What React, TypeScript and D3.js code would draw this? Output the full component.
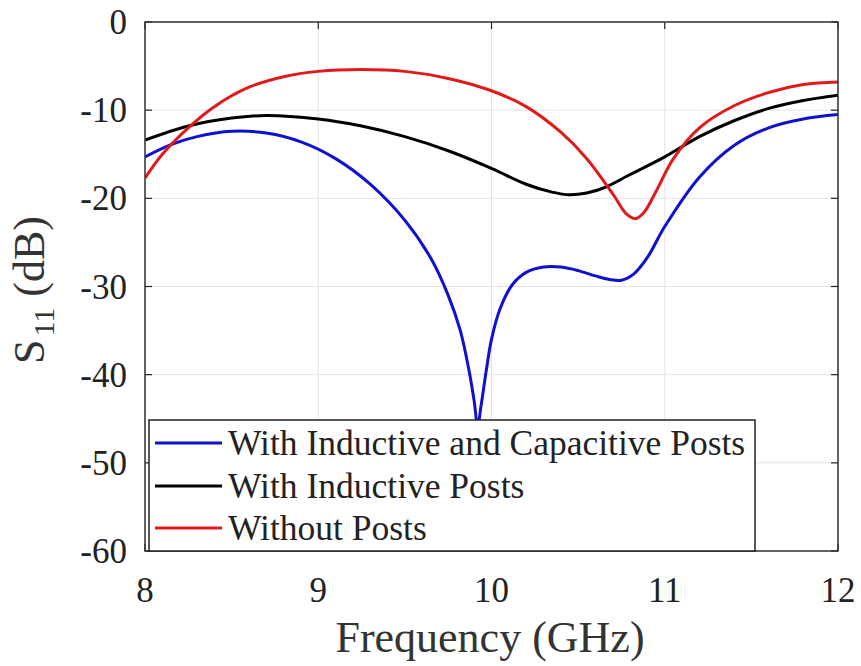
import React from "react";
import * as d3 from "d3";

const freqBlue = [8.0, 8.15, 8.3, 8.5, 8.7, 8.9, 9.1, 9.3, 9.5, 9.65, 9.75, 9.82, 9.87, 9.9, 9.92, 9.94, 9.97, 10.0, 10.05, 10.12, 10.2, 10.3, 10.4, 10.5, 10.6, 10.68, 10.75, 10.82, 10.9, 11.0, 11.2, 11.4, 11.6, 11.8, 12.0];
const s11Blue = [-15.3, -13.9, -13.0, -12.4, -12.6, -13.6, -15.5, -18.4, -22.5, -26.8, -31.0, -35.0, -39.5, -43.0, -45.8, -43.5, -39.5, -36.0, -32.5, -29.8, -28.4, -27.8, -27.8, -28.2, -28.8, -29.2, -29.3, -28.6, -26.7, -23.2, -17.6, -14.0, -12.0, -11.0, -10.5];

const freqBlack = [8.0, 8.25, 8.5, 8.7, 9.0, 9.25, 9.5, 9.75, 10.0, 10.2, 10.35, 10.45, 10.55, 10.65, 10.8, 11.0, 11.2, 11.4, 11.6, 11.8, 12.0];
const s11Black = [-13.4, -11.8, -10.9, -10.6, -11.0, -11.8, -13.0, -14.6, -16.6, -18.4, -19.3, -19.6, -19.4, -18.8, -17.3, -15.3, -13.0, -11.2, -9.8, -8.9, -8.3];

const freqRed = [8.0, 8.1, 8.25, 8.4, 8.6, 8.8, 9.0, 9.25, 9.5, 9.75, 10.0, 10.2, 10.4, 10.55, 10.7, 10.78, 10.83, 10.88, 10.95, 11.05, 11.2, 11.4, 11.6, 11.8, 12.0];
const s11Red = [-17.7, -15.0, -12.0, -9.6, -7.4, -6.2, -5.6, -5.4, -5.6, -6.4, -7.8, -9.6, -12.5, -15.5, -19.5, -21.8, -22.3, -21.6, -19.2, -15.5, -12.0, -9.5, -8.0, -7.1, -6.8];

const seriesNames = ["With Inductive and Capacitive Posts", "With Inductive Posts", "Without Posts"];
const seriesColors = ["#1010d0", "#000000", "#e01a1a"];

const xTicks = [8, 9, 10, 11, 12];
const yTicks = [0, -10, -20, -30, -40, -50, -60];

export default function App() {
  const W = 861, H = 666;
  const left = 145, right = 838, top = 22, bottom = 551;
  const x = d3.scaleLinear().domain([8, 12]).range([left, right]);
  const y = d3.scaleLinear().domain([-60, 0]).range([bottom, top]);
  const line = d3.line<[number, number]>().x(d => x(d[0])).y(d => y(d[1])).curve(d3.curveCatmullRom.alpha(0.5));
  const series = [
    { f: freqBlue, v: s11Blue },
    { f: freqBlack, v: s11Black },
    { f: freqRed, v: s11Red },
  ];
  const font = '"Liberation Serif", "Times New Roman", Times, "DejaVu Serif", serif';
  const tickLen = 7;
  const legend = { x0: 149, y0: 420, x1: 755, y1: 551 };
  const rowY = [443, 486, 528];
  return (
    <svg width={W} height={H} style={{ position: "absolute", left: 0, top: 0, background: "#fff", fontFamily: font }}>
      <rect x={0} y={0} width={W} height={H} fill="#fff" />
      {xTicks.map(t => (
        <line key={"gx" + t} x1={x(t)} x2={x(t)} y1={top} y2={bottom} stroke="#e3e3e3" strokeWidth={1} />
      ))}
      {yTicks.map(t => (
        <line key={"gy" + t} x1={left} x2={right} y1={y(t)} y2={y(t)} stroke="#e3e3e3" strokeWidth={1} />
      ))}
      {xTicks.map(t => (
        <g key={"tx" + t}>
          <line x1={x(t)} x2={x(t)} y1={bottom} y2={bottom - tickLen} stroke="#222" strokeWidth={1.2} />
          <line x1={x(t)} x2={x(t)} y1={top} y2={top + tickLen} stroke="#222" strokeWidth={1.2} />
          <text x={x(t)} y={bottom + 51} textAnchor="middle" fontSize={35} fill="#222" style={{ fontFamily: font }}>{t}</text>
        </g>
      ))}
      {yTicks.map(t => (
        <g key={"ty" + t}>
          <line x1={left} x2={left + tickLen} y1={y(t)} y2={y(t)} stroke="#222" strokeWidth={1.2} />
          <line x1={right} x2={right - tickLen} y1={y(t)} y2={y(t)} stroke="#222" strokeWidth={1.2} />
          <text x={left - 18} y={y(t) + 12} textAnchor="end" fontSize={35} fill="#222" style={{ fontFamily: font }}>{t}</text>
        </g>
      ))}
      <defs>
        <clipPath id="clip">
          <rect x={left} y={top} width={right - left} height={bottom - top} />
        </clipPath>
      </defs>
      <g clipPath="url(#clip)">
        {series.map((s, i) => (
          <path key={"s" + i} d={line(s.f.map((f, j) => [f, s.v[j]] as [number, number])) || ""} fill="none" stroke={seriesColors[i]} strokeWidth={3} />
        ))}
      </g>
      <rect x={left} y={top} width={right - left} height={bottom - top} fill="none" stroke="#333" strokeWidth={1.5} />
      <rect x={legend.x0} y={legend.y0} width={legend.x1 - legend.x0} height={legend.y1 - legend.y0} fill="#fff" stroke="#222" strokeWidth={1.5} />
      {seriesNames.map((n, i) => (
        <g key={"lg" + i}>
          <line x1={155} x2={222} y1={rowY[i]} y2={rowY[i]} stroke={seriesColors[i]} strokeWidth={3} />
          <text x={228} y={rowY[i] + 12} fontSize={35.5} fill="#222" style={{ fontFamily: font }}>{n}</text>
        </g>
      ))}
      <text x={490} y={652} textAnchor="middle" fontSize={44} fill="#333" style={{ fontFamily: font }}>Frequency (GHz)</text>
      <text transform={`translate(44, 290) rotate(-90)`} textAnchor="middle" fontSize={44} fill="#333" style={{ fontFamily: font }}>
        S<tspan fontSize={30} dy={10} dx={3}>11</tspan><tspan dy={-10}> (dB)</tspan>
      </text>
    </svg>
  );
}
